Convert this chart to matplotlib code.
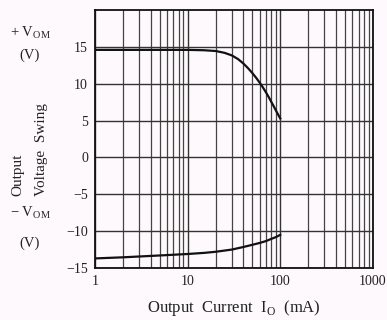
import numpy as np
import matplotlib.pyplot as plt
from matplotlib.ticker import LogLocator, NullFormatter, FixedLocator

# values
current_pos = [1, 5, 10, 15, 20, 25, 30, 35, 40, 45, 50, 55, 60, 65, 70, 75, 80, 85, 90, 95, 100]
swing_pos = [14.6, 14.6, 14.6, 14.55, 14.45, 14.2, 13.85, 13.35, 12.75, 12.1, 11.45, 10.8,
             10.15, 9.5, 8.85, 8.2, 7.55, 6.95, 6.35, 5.8, 5.3]
current_neg = [1, 2, 5, 10, 15, 20, 30, 40, 50, 60, 70, 80, 90, 100]
swing_neg = [-13.7, -13.55, -13.3, -13.1, -12.95, -12.8, -12.5, -12.15, -11.85, -11.6,
             -11.35, -11.05, -10.8, -10.5]
xticks = [1, 10, 100, 1000]
yticks = [-15, -10, -5, 0, 5, 10, 15]

plt.rcParams['font.family'] = ['Liberation Serif', 'DejaVu Serif']
plt.rcParams['mathtext.fontset'] = 'custom'
plt.rcParams['mathtext.rm'] = 'Liberation Serif'

bg = '#fdf9fc'
fig = plt.figure(figsize=(3.87, 3.2), dpi=100, facecolor=bg)
ax = fig.add_axes([0.2455, 0.1625, 0.718, 0.806])
ax.set_facecolor(bg)

ax.set_xscale('log')
ax.set_xlim(1, 1000)
ax.set_ylim(-15, 20)

ax.xaxis.set_major_locator(FixedLocator(xticks))
ax.set_xticklabels([str(v) for v in xticks])
ax.xaxis.set_minor_locator(LogLocator(base=10, subs=np.arange(2, 10)))
ax.xaxis.set_minor_formatter(NullFormatter())
ax.set_yticks(yticks)
ax.set_yticklabels(['\u221215', '\u221210', '\u22125', '0', '5', '10', '15'])

ax.grid(True, which='major', color='#333333', linewidth=1.0)
ax.grid(True, which='minor', axis='x', color='#444444', linewidth=0.9)
ax.tick_params(which='both', length=0, labelsize=10, colors='#222222', pad=5)

for s in ax.spines.values():
    s.set_color('#111111')
    s.set_linewidth(1.3)

ax.plot(current_pos, swing_pos, color='#111111', linewidth=1.6)
ax.plot(current_neg, swing_neg, color='#111111', linewidth=1.6)

ax.set_xlabel('Output  Current  I$_\\mathrm{O}$  (mA)', fontsize=12, color='#222222', labelpad=7)

fig.text(30 / 387, 1 - 33 / 320, '+ V$_\\mathrm{OM}$', fontsize=10.5, ha='center', va='center', color='#222222')
fig.text(30 / 387, 1 - 55 / 320, '(V)', fontsize=10.5, ha='center', va='center', color='#222222')
fig.text(18 / 387, 1 - 175 / 320, 'Output', fontsize=11, rotation=90, ha='center', va='center', color='#222222')
fig.text(42 / 387, 1 - 150 / 320, 'Voltage  Swing', fontsize=11, rotation=90, ha='center', va='center', color='#222222')
fig.text(30 / 387, 1 - 213 / 320, '\u2212 V$_\\mathrm{OM}$', fontsize=10.5, ha='center', va='center', color='#222222')
fig.text(30 / 387, 1 - 243 / 320, '(V)', fontsize=10.5, ha='center', va='center', color='#222222')

fig.savefig('out.png', dpi=100, facecolor=bg)
